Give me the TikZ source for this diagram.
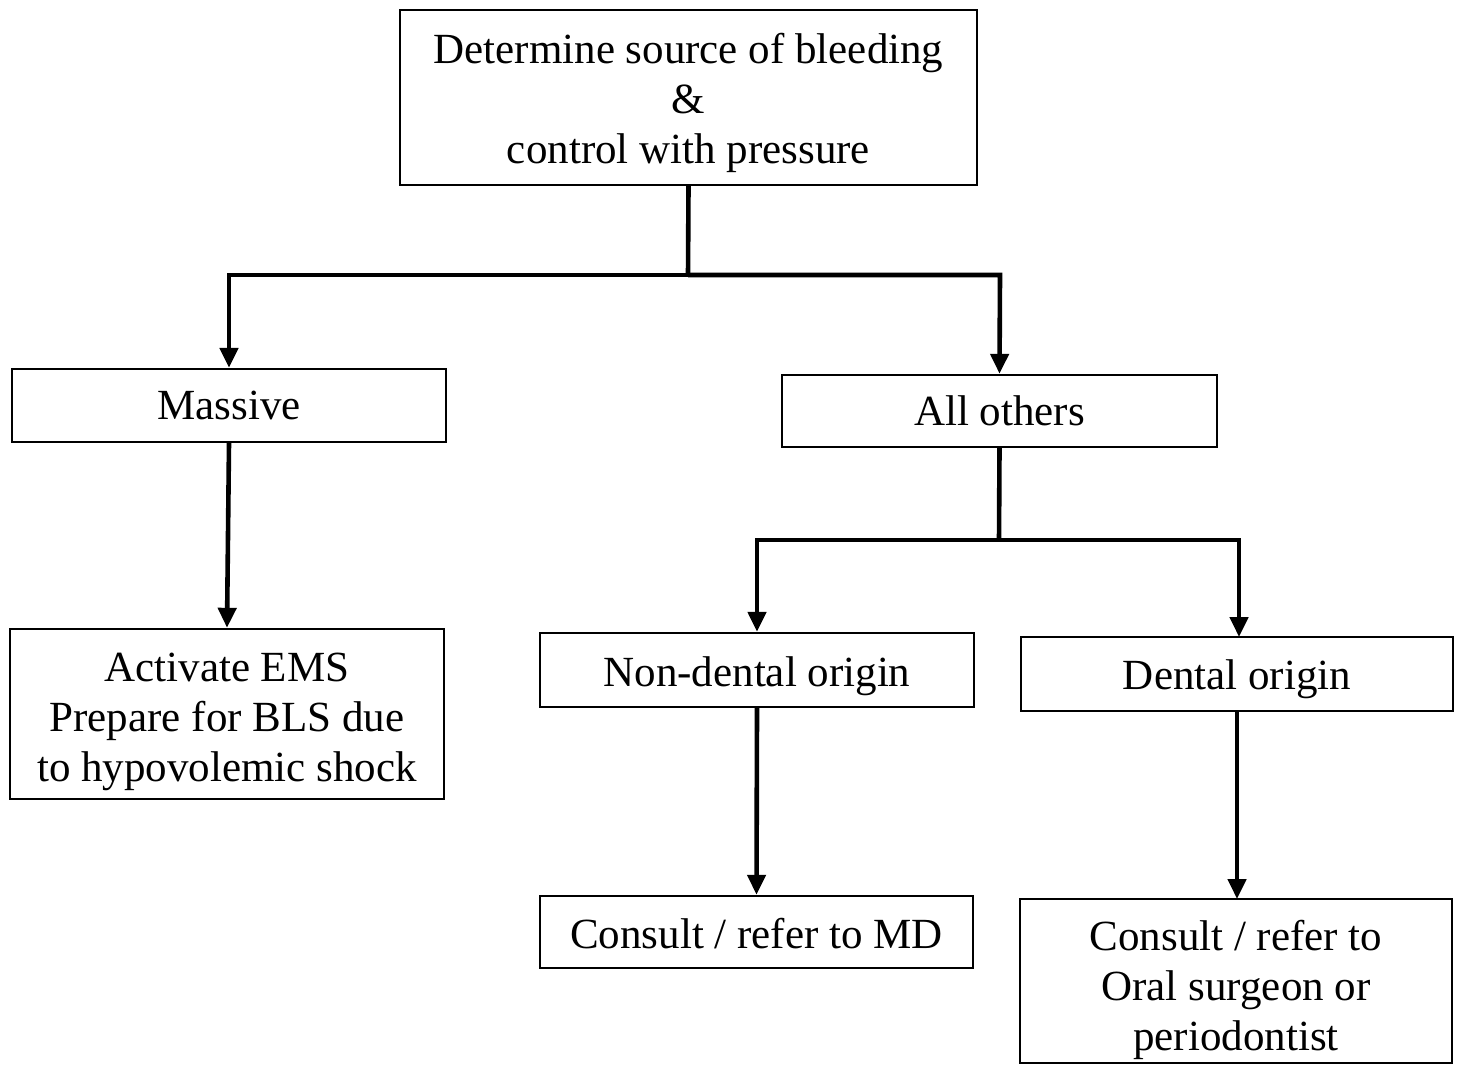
\documentclass[tikz,border=0pt]{standalone}
\usepackage{fontspec}
\setmainfont{Liberation Serif}
\usetikzlibrary{arrows.meta}
\newcommand{\lowtext}[2]{\raisebox{-#1}[\height][\depth]{\begin{tabular}{@{}c@{}}#2\end{tabular}}}
\begin{document}
\begin{tikzpicture}[x=0.5pt,y=-0.5pt,
  box/.style={draw,line width=1.2pt,inner sep=0pt,align=center,
    font=\fontsize{21.5}{25}\selectfont},
  conn/.style={line width=2.3pt},
  arr/.style={conn,-{Triangle[length=10pt,width=9pt]}}]
\useasboundingbox (0,0) rectangle (1460,1066);
\node[box,minimum width=288.5pt,minimum height=87.5pt] (top) at (688.5,97.5) {\lowtext{3pt}{Determine source of bleeding\\\&\\control with pressure}};
\node[box,minimum width=217pt,minimum height=36.5pt] (mass) at (229,405.5) {Massive};
\node[box,minimum width=217.5pt,minimum height=36pt] (others) at (999.5,411) {All others};
\node[box,minimum width=217pt,minimum height=85pt] (ems) at (227,714) {\lowtext{3.5pt}{Activate EMS\\Prepare for BLS due\\to hypovolemic shock}};
\node[box,minimum width=217pt,minimum height=37pt] (nond) at (757,670) {\lowtext{3pt}{Non-dental origin}};
\node[box,minimum width=216pt,minimum height=37pt] (dent) at (1237,674) {\lowtext{2.5pt}{Dental origin}};
\node[box,minimum width=216.5pt,minimum height=36pt] (md) at (756.5,932) {\lowtext{3pt}{Consult / refer to MD}};
\node[box,minimum width=216pt,minimum height=82pt] (oral) at (1236,981) {\lowtext{4.5pt}{Consult / refer to\\Oral surgeon or\\periodontist}};
\coordinate (j1) at (688,275);
\coordinate (j2) at (999,540);
\draw[conn] (top.south) -- (j1);
\draw[arr] (j1) -- (229,275) -- (mass.north);
\draw[arr] (j1) -- (1000,275) -- (others.north);
\draw[arr] (mass.south) -- (ems.north);
\draw[conn] (others.south) -- (j2);
\draw[arr] (j2) -- (757,540) -- (nond.north);
\draw[arr] (j2) -- (1239,540) -- (1239,637);
\draw[arr] (nond.south) -- (md.north);
\draw[arr] (1237,711) -- (1237,899);
\end{tikzpicture}
\end{document}
